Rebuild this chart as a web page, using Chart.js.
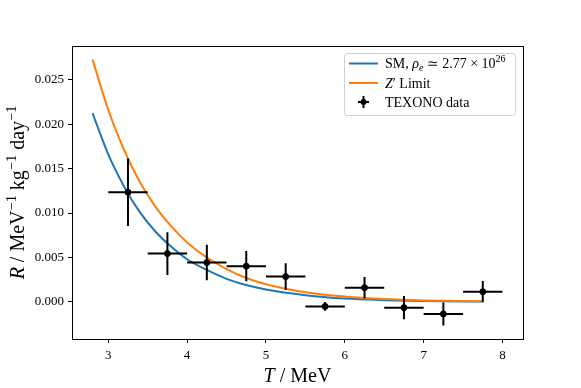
<!DOCTYPE html>
<html>
<head>
<meta charset="utf-8">
<script src="https://cdn.jsdelivr.net/npm/chart.js@4.4.0/dist/chart.umd.min.js"></script>
<style>
  html, body { margin: 0; padding: 0; background: #fff; }
  #wrap { width: 581px; height: 388px; }
</style>
</head>
<body>
<div id="wrap"><canvas id="rateChart" width="581" height="388"></canvas></div>
<script>
// Curves
const curveT = [2.8, 3.0, 3.2, 3.4, 3.6, 3.8, 4.0, 4.25, 4.5, 4.75, 5.0, 5.5, 6.0, 6.5, 7.0, 7.75];
const smRate = [0.02125, 0.0166, 0.0130, 0.0101, 0.0079, 0.0062, 0.0048, 0.0036, 0.0026, 0.0019, 0.0014, 0.00076, 0.00038, 0.0002, 0.0001, 0.00004];
const zpRate = [0.0273, 0.0216, 0.0171, 0.0135, 0.0107, 0.0085, 0.0067, 0.0050, 0.0037, 0.0027, 0.0020, 0.0011, 0.0006, 0.00032, 0.00017, 0.00007];

// TEXONO data points
const dataT = [3.25, 3.75, 4.25, 4.75, 5.25, 5.75, 6.25, 6.75, 7.25, 7.75];
const dataR = [0.01235, 0.00544, 0.00443, 0.00402, 0.00285, -0.0005, 0.00161, -0.00064, -0.00135, 0.00116];
const dataTErr = [0.25, 0.25, 0.25, 0.25, 0.25, 0.25, 0.25, 0.25, 0.25, 0.25];
const dataRErr = [0.0038, 0.0024, 0.0020, 0.0017, 0.0015, 0.0005, 0.0012, 0.0013, 0.0013, 0.0012];

// Tick labels
const xTicks = [3, 4, 5, 6, 7, 8];
const yTicks = [0, 0.005, 0.010, 0.015, 0.020, 0.025];

const FONT = '"Liberation Serif", "DejaVu Serif", serif';
const BLUE = '#1f77b4';
const ORANGE = '#ff7f0e';

// draw a run of text pieces: {t, it, sup, sub}
function richWidth(ctx, parts, size) {
    let w = 0;
    parts.forEach(p => {
        const s = (p.sup || p.sub) ? size * 0.72 : size;
        ctx.font = (p.it ? 'italic ' : '') + s + 'px ' + FONT;
        w += ctx.measureText(p.t).width;
    });
    return w;
}
function richText(ctx, parts, x, y, size) {
    ctx.textBaseline = 'alphabetic';
    ctx.textAlign = 'left';
    parts.forEach(p => {
        const s = (p.sup || p.sub) ? size * 0.72 : size;
        ctx.font = (p.it ? 'italic ' : '') + s + 'px ' + FONT;
        let dy = 0;
        if (p.sup) dy = -size * 0.42;
        if (p.sub) dy = size * 0.2;
        ctx.fillText(p.t, x, y + dy);
        x += ctx.measureText(p.t).width;
    });
}

const xTitle = [{t: 'T', it: true}, {t: ' / MeV'}];
const yTitle = [{t: 'R', it: true}, {t: ' / MeV'}, {t: '\u22121', sup: true}, {t: ' kg'}, {t: '\u22121', sup: true}, {t: ' day'}, {t: '\u22121', sup: true}];
const legendSM = [{t: 'SM, '}, {t: '\u03C1', it: true}, {t: 'e', it: true, sub: true}, {t: ' \u2243 2.77 \u00D7 10'}, {t: '26', sup: true}];
const legendZ = [{t: 'Z', it: true}, {t: '\u2032 Limit'}];
const legendData = [{t: 'TEXONO data'}];

const decorPlugin = {
    id: 'decor',
    afterDatasetsDraw(chart) {
        const ctx = chart.ctx;
        const xs = chart.scales.x, ys = chart.scales.y;
        const a = chart.chartArea;
        ctx.save();
        ctx.beginPath();
        ctx.rect(a.left, a.top, a.right - a.left, a.bottom - a.top);
        ctx.clip();
        ctx.strokeStyle = '#000';
        ctx.lineWidth = 2;
        for (let i = 0; i < dataT.length; i++) {
            const px = xs.getPixelForValue(dataT[i]);
            const py = ys.getPixelForValue(dataR[i]);
            ctx.beginPath();
            ctx.moveTo(xs.getPixelForValue(dataT[i] - dataTErr[i]), py);
            ctx.lineTo(xs.getPixelForValue(dataT[i] + dataTErr[i]), py);
            ctx.moveTo(px, ys.getPixelForValue(dataR[i] - dataRErr[i]));
            ctx.lineTo(px, ys.getPixelForValue(dataR[i] + dataRErr[i]));
            ctx.stroke();
        }
        ctx.restore();
    },
    afterDraw(chart) {
        const ctx = chart.ctx;
        const a = chart.chartArea;
        ctx.save();
        // frame
        ctx.strokeStyle = '#000';
        ctx.lineWidth = 1;
        ctx.strokeRect(a.left + 0.5, a.top + 0.5, a.right - a.left, a.bottom - a.top);

        // axis titles
        ctx.fillStyle = '#000';
        const ts = 20;
        const xw = richWidth(ctx, xTitle, ts);
        richText(ctx, xTitle, (a.left + a.right) / 2 - xw / 2, 382, ts);
        ctx.translate(24, (a.top + a.bottom) / 2);
        ctx.rotate(-Math.PI / 2);
        const yw = richWidth(ctx, yTitle, ts);
        richText(ctx, yTitle, -yw / 2, 0, ts);
        ctx.restore();

        // legend
        ctx.save();
        const lx = 344, ly = 53, lw = 171, lh = 62;
        ctx.fillStyle = 'rgba(255,255,255,0.8)';
        ctx.strokeStyle = '#d0d0d0';
        ctx.lineWidth = 1;
        ctx.beginPath();
        ctx.roundRect(lx + 0.5, ly + 0.5, lw, lh, 3);
        ctx.fill();
        ctx.stroke();
        const rows = [63.5, 83, 102];
        ctx.lineWidth = 2;
        ctx.strokeStyle = BLUE;
        ctx.beginPath(); ctx.moveTo(349, rows[0]); ctx.lineTo(378, rows[0]); ctx.stroke();
        ctx.strokeStyle = ORANGE;
        ctx.beginPath(); ctx.moveTo(349, rows[1]); ctx.lineTo(378, rows[1]); ctx.stroke();
        ctx.strokeStyle = '#000';
        ctx.beginPath();
        ctx.moveTo(358, rows[2]); ctx.lineTo(369, rows[2]);
        ctx.moveTo(363.5, rows[2] - 6); ctx.lineTo(363.5, rows[2] + 6);
        ctx.stroke();
        ctx.fillStyle = '#000';
        ctx.beginPath(); ctx.arc(363.5, rows[2], 3, 0, Math.PI * 2); ctx.fill();
        const fs = 14;
        richText(ctx, legendSM, 385, rows[0] + 4.5, fs);
        richText(ctx, legendZ, 385, rows[1] + 4.5, fs);
        richText(ctx, legendData, 385, rows[2] + 4.5, fs);
        ctx.restore();
    }
};

const ctx1 = document.getElementById('rateChart');
new Chart(ctx1, {
    type: 'line',
    data: {
        datasets: [
            {
                label: 'TEXONO data',
                type: 'scatter',
                data: dataT.map((t, i) => ({x: t, y: dataR[i]})),
                pointRadius: 3,
                pointBackgroundColor: '#000',
                pointBorderColor: '#000',
                showLine: false
            },
            {
                label: 'Z\u2032 Limit',
                data: curveT.map((t, i) => ({x: t, y: zpRate[i]})),
                borderColor: ORANGE,
                borderWidth: 2,
                pointRadius: 0,
                cubicInterpolationMode: 'monotone',
                fill: false
            },
            {
                label: 'SM',
                data: curveT.map((t, i) => ({x: t, y: smRate[i]})),
                borderColor: BLUE,
                borderWidth: 2,
                pointRadius: 0,
                cubicInterpolationMode: 'monotone',
                fill: false
            }
        ]
    },
    options: {
        responsive: false,
        animation: false,
        events: [],
        layout: {
            padding: {left: 0, right: 58, top: 46, bottom: 0}
        },
        plugins: {
            legend: {display: false},
            tooltip: {enabled: false}
        },
        scales: {
            x: {
                type: 'linear',
                min: 2.54,
                max: 8.26,
                afterBuildTicks: s => { s.ticks = xTicks.map(v => ({value: v})); },
                afterFit: s => { s.height = 49; },
                border: {display: false},
                grid: {
                    drawOnChartArea: false,
                    drawTicks: true,
                    tickLength: 4,
                    color: '#000'
                },
                ticks: {
                    color: '#000',
                    padding: 5,
                    maxRotation: 0,
                    font: {family: FONT, size: 13},
                    callback: v => String(v)
                }
            },
            y: {
                type: 'linear',
                min: -0.00417,
                max: 0.0288,
                afterBuildTicks: s => { s.ticks = yTicks.map(v => ({value: v})); },
                afterFit: s => { s.width = 72; },
                border: {display: false},
                grid: {
                    drawOnChartArea: false,
                    drawTicks: true,
                    tickLength: 4,
                    color: '#000'
                },
                ticks: {
                    color: '#000',
                    padding: 4,
                    font: {family: FONT, size: 13},
                    callback: v => v.toFixed(3)
                }
            }
        }
    },
    plugins: [decorPlugin]
});
</script>
</body>
</html>
